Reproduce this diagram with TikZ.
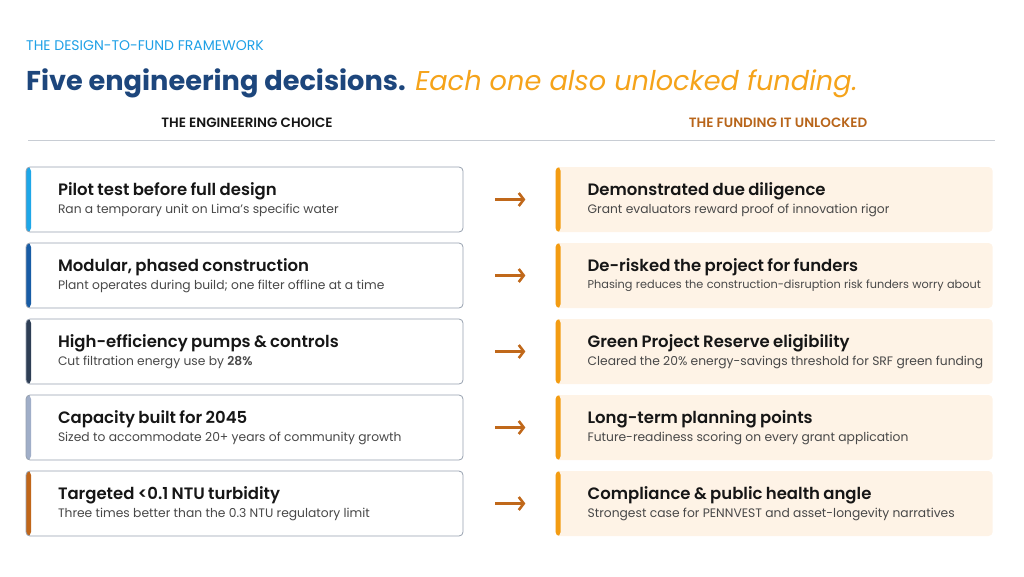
\documentclass[tikz,border=0pt]{standalone}
\usepackage{fontspec}
\setmainfont{Poppins}
\IfFontExistsTF{Poppins SemiBold}{\newfontfamily\semifont{Poppins SemiBold}}{\newcommand\semifont{\bfseries}}
\usetikzlibrary{positioning,arrows.meta}
\definecolor{TopBlue}{RGB}{30,160,230}
\definecolor{TitleBlue}{RGB}{29,70,124}
\definecolor{TitleOrange}{RGB}{245,163,26}
\definecolor{HeadBrown}{RGB}{184,101,26}
\definecolor{RuleGray}{RGB}{200,205,212}
\definecolor{BoxGray}{RGB}{150,160,175}
\definecolor{Peach}{RGB}{254,243,230}
\definecolor{FundBar}{RGB}{243,156,18}
\definecolor{ArrowBrown}{RGB}{192,104,26}
\definecolor{Ink}{RGB}{22,22,22}
\definecolor{SubGray}{RGB}{72,72,72}
\definecolor{BarOne}{RGB}{30,167,232}
\definecolor{BarTwo}{RGB}{24,92,165}
\definecolor{BarThree}{RGB}{46,62,85}
\definecolor{BarFour}{RGB}{160,174,200}
\definecolor{BarFive}{RGB}{192,102,26}
\newcommand\rowtext[3][12.3]{{\fontsize{16.5}{18}\semifont\color{Ink}#2}\\[3pt]\mbox{\fontsize{#1}{14}\selectfont\color{SubGray}#3}}
\tikzset{
  choice/.style={draw=BoxGray,fill=white,line width=0.8pt,rounded corners=4pt,minimum height=65pt,text width=373pt,inner xsep=32pt,inner ysep=0pt,align=left,
    path picture={\fill[#1] (path picture bounding box.north west) rectangle ([xshift=5pt]path picture bounding box.south west);}},
  fund/.style={fill=Peach,rounded corners=4pt,minimum height=65pt,text width=373pt,inner xsep=32pt,inner ysep=0pt,align=left,
    path picture={\fill[FundBar] (path picture bounding box.north west) rectangle ([xshift=5pt]path picture bounding box.south west);}},
  colhead/.style={font=\fontsize{13.5}{15}\semifont},
  link/.style={-{Straight Barb[length=5pt,width=13pt]},line width=2.6pt,draw=ArrowBrown,shorten <=32pt,shorten >=30pt},
}
\begin{document}
\begin{tikzpicture}[x=1pt,y=-1pt,node distance=10.2pt and 92pt]
  \useasboundingbox (0,0) rectangle (1024,576);
  \node[anchor=base west,inner sep=0pt,text=TopBlue,font=\fontsize{14}{16}\selectfont] (kicker) at (26,50) {THE DESIGN-TO-FUND FRAMEWORK};
  \node[anchor=base west,inner sep=0pt,font=\fontsize{27.2}{30}\selectfont] (title) at (26,90)
    {{\bfseries\color{TitleBlue}Five engineering decisions.} {\itshape\color{TitleOrange}Each one also unlocked funding.}};
  \node[colhead,text=Ink] (lhead) at (247,123) {THE ENGINEERING CHOICE};
  \node[colhead,text=HeadBrown] (rhead) at (778,123) {THE FUNDING IT UNLOCKED};
  \draw[RuleGray,line width=0.8pt] (28,140) -- (995,140);

  \node[choice=BarOne] (c1) at (244.5,199.5) {\rowtext{Pilot test before full design}{Ran a temporary unit on Lima's specific water}};
  \node[choice=BarTwo,below=of c1] (c2) {\rowtext{Modular, phased construction}{Plant operates during build; one filter offline at a time}};
  \node[choice=BarThree,below=of c2] (c3) {\rowtext{High-efficiency pumps \& controls}{Cut filtration energy use by {\semifont 28\%}}};
  \node[choice=BarFour,below=of c3] (c4) {\rowtext{Capacity built for 2045}{Sized to accommodate 20+ years of community growth}};
  \node[choice=BarFive,below=of c4] (c5) {\rowtext{Targeted <0.1 NTU turbidity}{Three times better than the 0.3 NTU regulatory limit}};

  \node[fund,right=of c1] (f1) {\rowtext{Demonstrated due diligence}{Grant evaluators reward proof of innovation rigor}};
  \node[fund,right=of c2] (f2) {\rowtext[11.3]{De-risked the project for funders}{Phasing reduces the construction-disruption risk funders worry about}};
  \node[fund,right=of c3] (f3) {\rowtext{Green Project Reserve eligibility}{Cleared the 20\% energy-savings threshold for SRF green funding}};
  \node[fund,right=of c4] (f4) {\rowtext{Long-term planning points}{Future-readiness scoring on every grant application}};
  \node[fund,right=of c5] (f5) {\rowtext{Compliance \& public health angle}{Strongest case for PENNVEST and asset-longevity narratives}};

  \draw[link] (c1) -- (f1); \draw[link] (c2) -- (f2); \draw[link] (c3) -- (f3);
  \draw[link] (c4) -- (f4); \draw[link] (c5) -- (f5);
\end{tikzpicture}
\end{document}
